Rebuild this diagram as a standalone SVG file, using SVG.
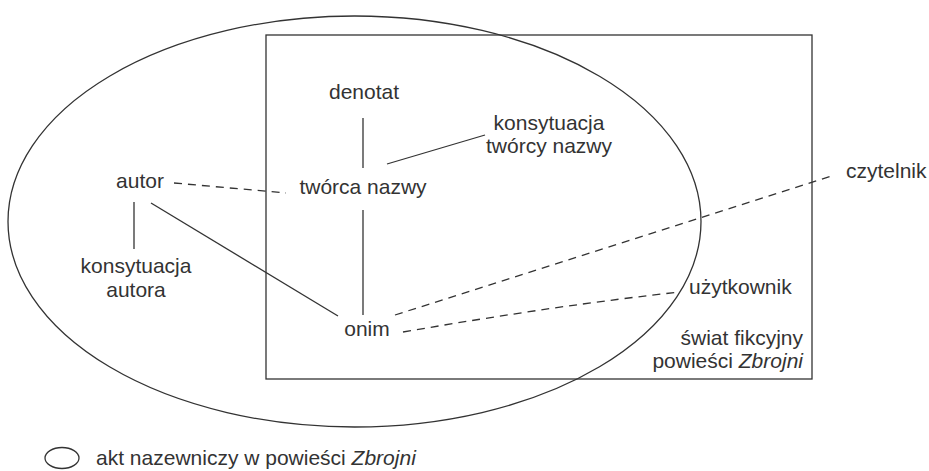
<svg xmlns="http://www.w3.org/2000/svg" width="929" height="471" viewBox="0 0 929 471">
<style>
text{font-family:"Liberation Sans",Arial,sans-serif;font-size:21px;fill:#333}
.c{text-anchor:middle}
.r{text-anchor:end}
.s{stroke:#333;stroke-width:1.3;fill:none}
.d{stroke:#333;stroke-width:1.3;fill:none;stroke-dasharray:8 6}
</style>
<rect width="929" height="471" fill="#fff"/>
<g id="akt-nazewniczy"><ellipse class="s" cx="354.5" cy="221.5" rx="346.5" ry="205.5"/></g>
<g id="swiat-fikcyjny">
<rect class="s" x="266" y="35" width="546" height="344"/>
<text class="r" x="803" y="345">świat fikcyjny</text>
<text class="r" x="803" y="368">powieści <tspan font-style="italic">Zbrojni</tspan></text>
</g>
<g id="connectors">
<line class="s" x1="363" y1="118" x2="363" y2="168"/>
<line class="s" x1="363" y1="210" x2="363" y2="315"/>
<line class="s" x1="387" y1="164" x2="485" y2="135"/>
<line class="s" x1="134" y1="202" x2="134" y2="249"/>
<line class="s" x1="151" y1="203" x2="338" y2="316"/>
<line class="d" x1="174" y1="183" x2="286" y2="193"/>
<line class="d" x1="395" y1="315" x2="835" y2="175"/>
<path class="d" d="M403 332 Q560 305 680 292"/>
</g>
<g id="denotat"><text class="c" x="364" y="99">denotat</text></g>
<g id="tworca-nazwy"><text class="c" x="363" y="194">twórca nazwy</text></g>
<g id="konsytuacja-tworcy"><text class="c" x="549" y="130">konsytuacja</text><text class="c" x="549" y="153">twórcy nazwy</text></g>
<g id="autor"><text class="c" x="140" y="188">autor</text></g>
<g id="konsytuacja-autora"><text class="c" x="136" y="273">konsytuacja</text><text class="c" x="136" y="297">autora</text></g>
<g id="onim"><text class="c" x="367" y="336">onim</text></g>
<g id="czytelnik"><text x="846" y="178">czytelnik</text></g>
<g id="uzytkownik"><text x="689" y="294">użytkownik</text></g>
<g id="legend">
<ellipse class="s" cx="62" cy="458" rx="17" ry="10.5"/>
<text x="96" y="465">akt nazewniczy w powieści <tspan font-style="italic">Zbrojni</tspan></text>
</g>
</svg>
